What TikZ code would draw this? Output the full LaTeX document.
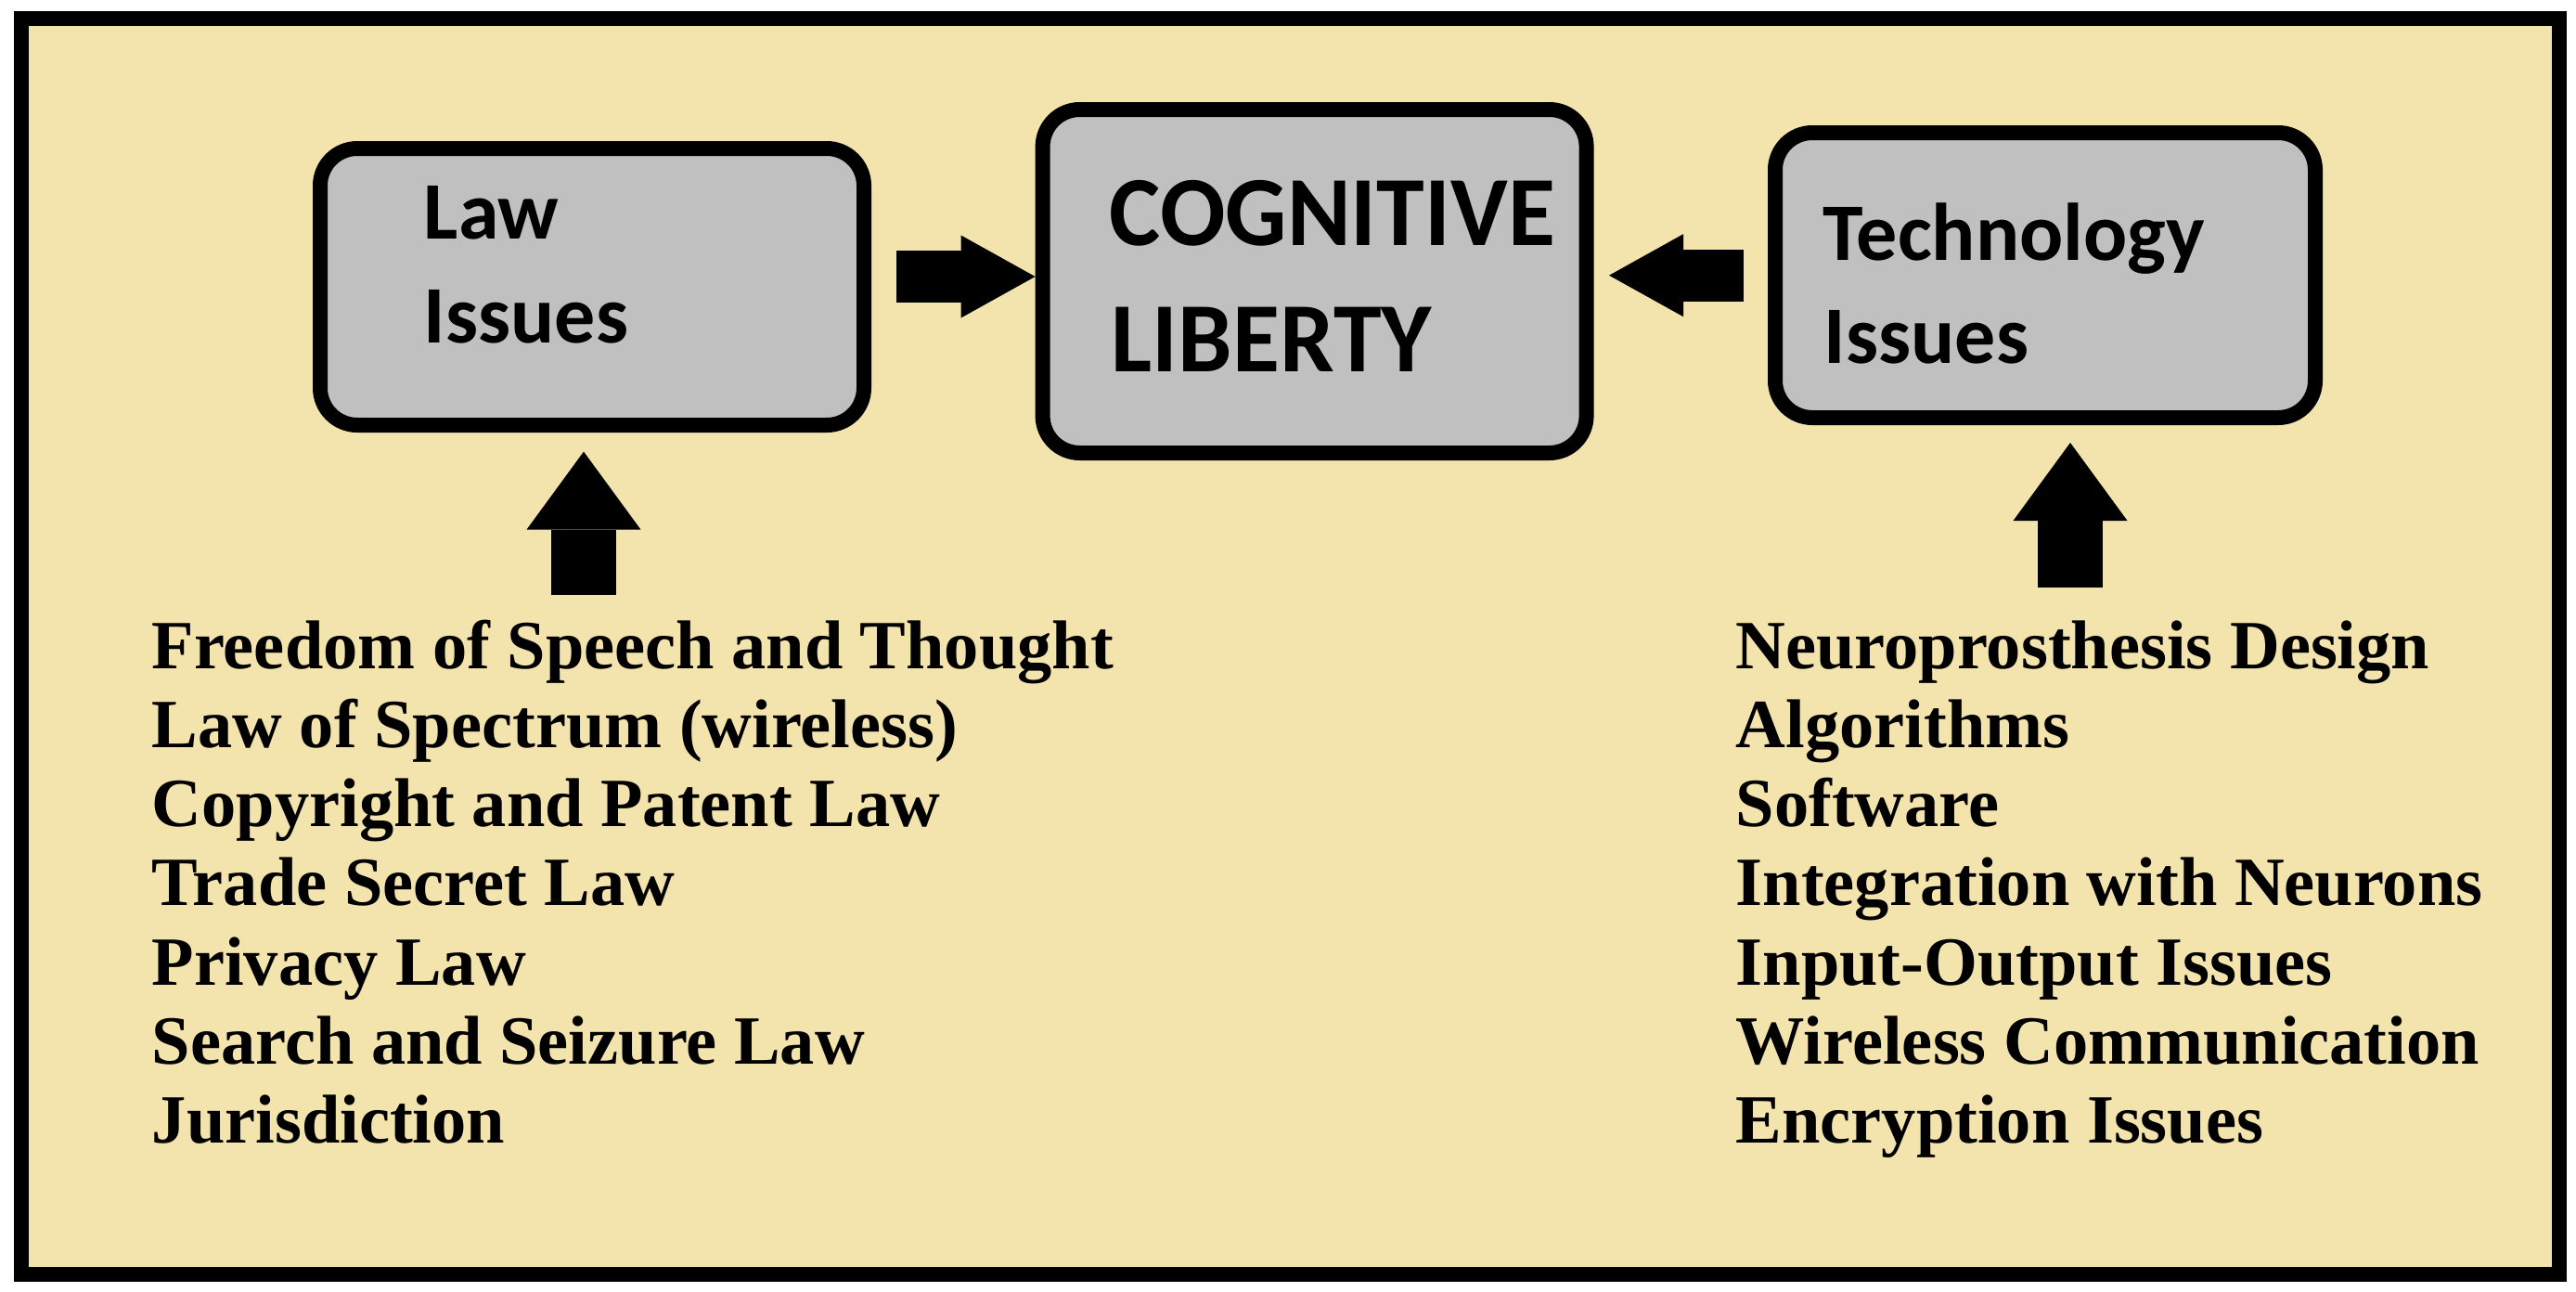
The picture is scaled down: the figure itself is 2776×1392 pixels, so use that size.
\documentclass[tikz,border=0pt]{standalone}
\usepackage{fontspec}
\setmainfont{Liberation Serif}
\newfontfamily\boxfont{Carlito}
\newfontfamily\bigboxfont{Carlito}[FakeStretch=0.975]
\usetikzlibrary{arrows.meta}
\definecolor{bgbeige}{RGB}{243,227,173}
\definecolor{boxgray}{RGB}{192,192,192}
\begin{document}
\begin{tikzpicture}[x=0.25pt,y=-0.25pt,
  frame/.style={draw=black,line width=4pt,fill=bgbeige},
  issuebox/.style={draw=black,line width=4pt,fill=boxgray,rounded corners=10pt,inner sep=0pt},
  boxtext/.style={anchor=base west,inner sep=0pt,font=\boxfont\bfseries\fontsize{22pt}{26pt}\selectfont},
  bigtext/.style={anchor=base west,inner sep=0pt,font=\bigboxfont\bfseries\fontsize{26.75pt}{32pt}\selectfont},
  listtext/.style={anchor=base west,inner sep=0pt,font=\bfseries\fontsize{18.6pt}{21.3pt}\selectfont},
  fat/.style={line width=14pt,-{Triangle[length=20pt,width=22.25pt,line width=0pt]}},
  fatup/.style={line width=17.5pt,-{Triangle[length=21pt,width=30.75pt,line width=0pt]}}
]
\useasboundingbox (0,0) rectangle (2776,1392);
\fill[white] (0,0) rectangle (2776,1392);
\draw[frame] (23.3,20) rectangle (2758,1373);

% boxes
\node[issuebox,minimum width=146.5pt,minimum height=74.5pt] (law) at (638,309) {};
\node[issuebox,minimum width=146.5pt,minimum height=92.5pt] (cl) at (1416.6,303) {};
\node[issuebox,minimum width=145.5pt,minimum height=76.75pt] (tech) at (2204,296.5) {};

% box texts
\node[boxtext] (law1) at (456,257) {Law};
\node[boxtext] (law2) at (456,369) {Issues};
\node[bigtext] (cl1) at (1195,264) {COGNITIVE};
\node[bigtext] (cl2) at (1197,400.7) {LIBERTY};
\node[boxtext] (tech1) at (1964,280) {Technology};
\node[boxtext] (tech2) at (1965,391) {Issues};

% arrows
\coordinate (a1) at (965.7,298);
\coordinate (a2) at (1879,296.7);
\coordinate (lawin) at (629,640.6);
\coordinate (techin) at (2231,632.6);
\draw[fat] (a1) -- (a1 -| cl.west);
\draw[fat,shorten >=4.1pt] (a2) -- (a2 -| cl.east);
\draw[fatup,shorten >=5.15pt] (lawin) -- (lawin |- law.south);
\draw[fatup,shorten >=4.75pt] (techin) -- (techin |- tech.south);

% lists
\foreach \t [count=\i from 0] in {Freedom of Speech and Thought,Law of Spectrum (wireless),Copyright and Patent Law,Trade Secret Law,Privacy Law,Search and Seizure Law,Jurisdiction}
  \node[listtext] (l\i) at (163,720+85.33*\i) {\t};
\foreach \t [count=\i from 0] in {Neuroprosthesis Design,Algorithms,Software,Integration with Neurons,Input-Output Issues,Wireless Communication,Encryption Issues}
  \node[listtext] (r\i) at (1870,720+85.33*\i) {\t};
\end{tikzpicture}
\end{document}
